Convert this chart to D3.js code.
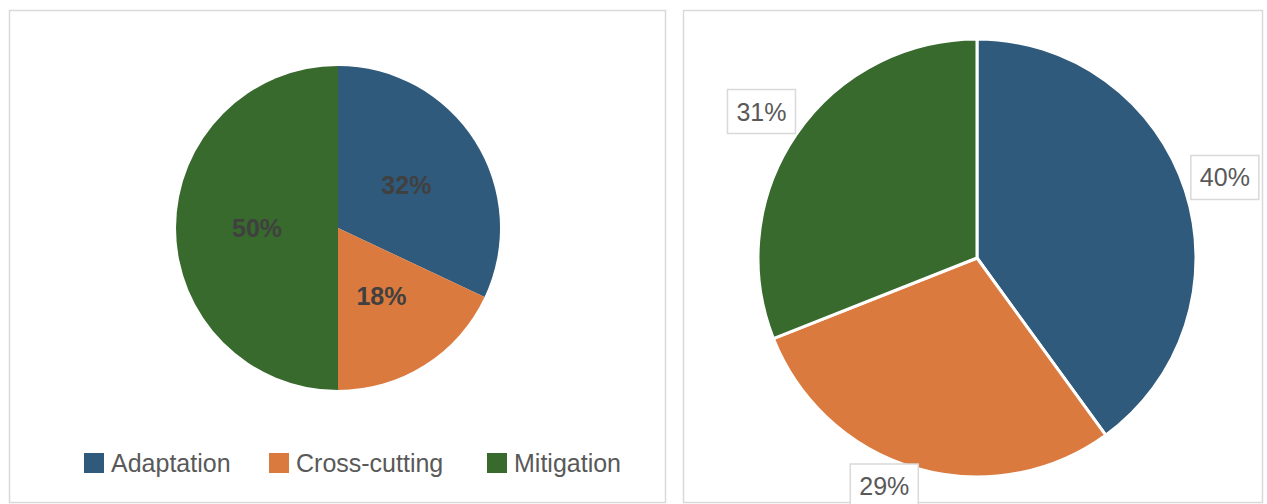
<!DOCTYPE html>
<html>
<head>
<meta charset="utf-8">
<script src="https://cdn.jsdelivr.net/npm/d3@7"></script>
<style>
  html, body { margin: 0; padding: 0; background: #ffffff; }
  svg { display: block; font-family: "Liberation Sans", Arial, sans-serif; }
</style>
</head>
<body>
<svg id="chart" width="1267" height="504"></svg>
<script>
// Funding shares by theme
const categories = ["Adaptation", "Cross-cutting", "Mitigation"];
const colors = ["#2f5a7b", "#db7a3e", "#376a2c"];
const leftValues = [32, 18, 50];
const rightValues = [40, 29, 31];
const leftLabels = ["32%", "18%", "50%"];
const rightLabels = ["40%", "29%", "31%"];

const svg = d3.select("#chart");
const color = d3.scaleOrdinal().domain(categories).range(colors);

// Panel frames
const panels = [
  { x: 9, y: 10, w: 656, h: 492 },
  { x: 683, y: 10, w: 579, h: 492 }
];
svg.selectAll("rect.panel").data(panels).join("rect")
  .attr("class", "panel")
  .attr("x", d => d.x + 0.5).attr("y", d => d.y + 0.5)
  .attr("width", d => d.w).attr("height", d => d.h)
  .attr("fill", "#ffffff").attr("stroke", "#d9d9d9").attr("stroke-width", 1.5);

const pie = d3.pie().sort(null).value(d => d.value);

// Left pie: labels inside the slices
{
  const cx = 338, cy = 228, R = 162;
  const data = categories.map((c, i) => ({ cat: c, value: leftValues[i], label: leftLabels[i] }));
  const arcs = pie(data);
  const arc = d3.arc().innerRadius(0).outerRadius(R);
  const labelArc = d3.arc().innerRadius(R * 0.5).outerRadius(R * 0.5);
  const g = svg.append("g").attr("transform", `translate(${cx},${cy})`);
  g.selectAll("path").data(arcs).join("path")
    .attr("d", arc)
    .attr("fill", d => color(d.data.cat));
  g.selectAll("text").data(arcs).join("text")
    .attr("transform", d => `translate(${labelArc.centroid(d)})`)
    .attr("text-anchor", "middle")
    .attr("dominant-baseline", "central")
    .attr("font-size", 25)
    .attr("font-weight", "bold")
    .attr("fill", "#404040")
    .text(d => d.data.label);

  // Legend
  const legendX = [84, 269, 487];
  const lg = svg.append("g");
  const items = lg.selectAll("g").data(categories).join("g")
    .attr("transform", (d, i) => `translate(${legendX[i]},453)`);
  items.append("rect").attr("width", 20).attr("height", 20)
    .attr("fill", d => color(d));
  items.append("text")
    .attr("x", 27).attr("y", 19)
    .attr("font-size", 25)
    .attr("fill", "#595959")
    .text(d => d);
}

// Right pie: separated slices with boxed labels outside
{
  const cx = 977, cy = 258, R = 219;
  const data = categories.map((c, i) => ({ cat: c, value: rightValues[i], label: rightLabels[i] }));
  const arcs = pie(data);
  const arc = d3.arc().innerRadius(0).outerRadius(R);
  const labelArc = d3.arc().innerRadius(R * 1.19).outerRadius(R * 1.19);
  const g = svg.append("g").attr("transform", `translate(${cx},${cy})`);
  g.selectAll("path").data(arcs).join("path")
    .attr("d", arc)
    .attr("fill", d => color(d.data.cat))
    .attr("stroke", "#ffffff")
    .attr("stroke-width", 3)
    .attr("stroke-linejoin", "round");

  const maxY = 486 - cy;
  const labels = g.selectAll("g.lbl").data(arcs).join("g")
    .attr("class", "lbl")
    .attr("transform", d => {
      const [x, y] = labelArc.centroid(d);
      return `translate(${y > maxY ? x - 20 : x},${Math.min(y, maxY)})`;
    });
  labels.append("rect")
    .attr("x", -34).attr("y", -22)
    .attr("width", 68).attr("height", 44)
    .attr("fill", "#ffffff")
    .attr("stroke", "#d9d9d9")
    .attr("stroke-width", 1.5);
  labels.append("text")
    .attr("text-anchor", "middle")
    .attr("dominant-baseline", "central")
    .attr("font-size", 25)
    .attr("fill", "#595959")
    .text(d => d.data.label);
}
</script>
</body>
</html>
